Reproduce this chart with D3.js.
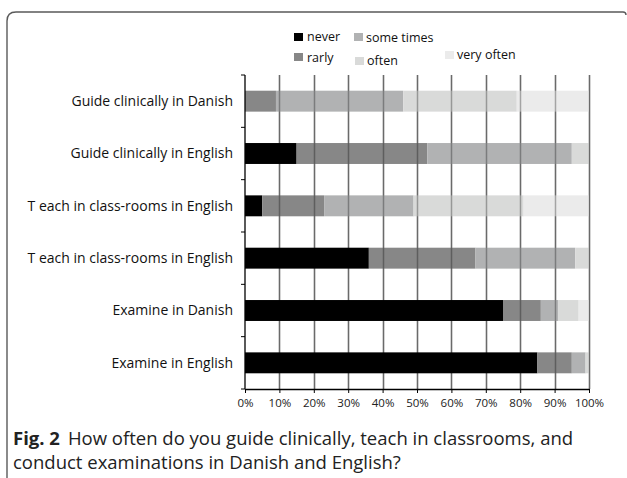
<!DOCTYPE html>
<html>
<head>
<meta charset="utf-8">
<script src="https://cdn.jsdelivr.net/npm/d3@7"></script>
<style>
  body { margin: 0; background: #fff; }
  svg text { font-family: "Open Sans", "Noto Sans", sans-serif; }
</style>
</head>
<body>
<div id="chart"></div>
<script>
// categories, top to bottom
var categories = [
  'Guide clinically in Danish',
  'Guide clinically in English',
  'T each in class-rooms in English',
  'T each in class-rooms in English ',
  'Examine in Danish',
  'Examine in English'
];
var keys = ['never', 'rarly', 'some times', 'often', 'very often'];
var never     = [0, 15, 5, 36, 75, 85];
var rarly     = [9, 38, 18, 31, 11, 10];
var someTimes = [37, 42, 26, 29, 5, 4];
var often     = [33, 5, 32, 4, 6, 1];
var veryOften = [21, 0, 19, 0, 3, 0];
var ticks = [0, 10, 20, 30, 40, 50, 60, 70, 80, 90, 100];
var colors = ['#000000', '#878787', '#b1b2b3', '#d9dad9', '#ebebeb'];

var rows = categories.map(function(c, i) {
  return {
    cat: c, 'never': never[i], 'rarly': rarly[i], 'some times': someTimes[i],
    'often': often[i], 'very often': veryOften[i]
  };
});

var width = 627, height = 478,
  x0 = 245, x1 = 589, y0 = 75, y1 = 389;

var svg = d3.select('#chart').append('svg')
  .attr('width', width).attr('height', height);

// frame
svg.append('path')
  .attr('d', 'M7,480 L7,21 Q7,12 16,12 L623,12 Q626,12 626,15')
  .attr('fill', 'none')
  .attr('stroke', '#5a5a5a')
  .attr('stroke-width', 1.4);

var x = d3.scaleLinear().domain([0, 100]).range([x0, x1]);
var y = d3.scaleBand().domain(categories).range([y0, y1]).paddingInner(0.6).paddingOuter(0.3);

// gridlines behind the bars
function grid(g, stroke, opacity) {
  g.selectAll('line')
    .data(ticks.slice(1))
    .enter().append('line')
    .attr('x1', function(d) { return Math.round(x(d)) + 0.5; })
    .attr('x2', function(d) { return Math.round(x(d)) + 0.5; })
    .attr('y1', y0)
    .attr('y2', y1)
    .attr('stroke', stroke)
    .attr('stroke-opacity', opacity)
    .attr('stroke-width', 1.5);
}
svg.append('g').call(grid, '#999', 1);

var series = d3.stack().keys(keys)(rows);

svg.append('g')
  .selectAll('g')
  .data(series)
  .enter().append('g')
  .attr('fill', function(d, i) { return colors[i]; })
  .selectAll('rect')
  .data(function(d) { return d; })
  .enter().append('rect')
  .attr('x', function(d) { return x(d[0]); })
  .attr('width', function(d) { return x(d[1]) - x(d[0]); })
  .attr('y', function(d) { return y(d.data.cat); })
  .attr('height', y.bandwidth());

// and again, see-through, over the bars
svg.append('g').call(grid, '#000', 0.3);

// x axis
var xAxis = svg.append('g')
  .attr('transform', 'translate(0,' + y1 + ')')
  .call(d3.axisBottom(x).tickValues(ticks).tickSize(4).tickSizeOuter(0)
    .tickFormat(function(d) { return d + '%'; }));
xAxis.select('.domain').attr('stroke', '#000').attr('stroke-width', 1.3);
xAxis.selectAll('.tick line').attr('stroke', '#000');
xAxis.selectAll('text')
  .attr('dy', '0.95em')
  .attr('font-size', 11.5)
  .attr('font-family', '"Open Sans", sans-serif')
  .attr('fill', '#222');

// y axis: ticks between categories
var yAxis = svg.append('g');
yAxis.append('line')
  .attr('x1', x0).attr('x2', x0)
  .attr('y1', y0).attr('y2', y1)
  .attr('stroke', '#000').attr('stroke-width', 1.3);
var step = (y1 - y0) / categories.length;
yAxis.selectAll('line.tk')
  .data(d3.range(categories.length + 1))
  .enter().append('line')
  .attr('class', 'tk')
  .attr('x1', x0 - 4).attr('x2', x0)
  .attr('y1', function(d) { return y0 + d * step; })
  .attr('y2', function(d) { return y0 + d * step; })
  .attr('stroke', '#000');

yAxis.selectAll('text')
  .data(categories)
  .enter().append('text')
  .attr('x', 233)
  .attr('y', function(d) { return y(d) + y.bandwidth() / 2; })
  .attr('dy', '0.35em')
  .attr('text-anchor', 'end')
  .attr('font-size', 14)
  .attr('font-family', 'Lato, "Open Sans", sans-serif')
  .attr('fill', '#111')
  .text(function(d) { return d.trim(); });

// legend
var legend = [
  { k: 'never', sx: 294, sy: 33, tx: 307, ty: 41 },
  { k: 'some times', sx: 354, sy: 33, tx: 366, ty: 42 },
  { k: 'rarly', sx: 294, sy: 53, tx: 307, ty: 62 },
  { k: 'often', sx: 355, sy: 57, tx: 367, ty: 65 },
  { k: 'very often', sx: 445, sy: 51, tx: 457, ty: 59 }
];
var lg = svg.append('g').selectAll('g').data(legend).enter().append('g');
lg.append('rect')
  .attr('x', function(d) { return d.sx; })
  .attr('y', function(d) { return d.sy; })
  .attr('width', 9).attr('height', 8)
  .attr('fill', function(d) { return colors[keys.indexOf(d.k)]; });
lg.append('text')
  .attr('x', function(d) { return d.tx; })
  .attr('y', function(d) { return d.ty; })
  .attr('font-size', 12.5)
  .attr('fill', '#111')
  .text(function(d) { return d.k; });

// caption
var cap = svg.append('text')
  .attr('x', 13).attr('y', 445)
  .attr('font-size', 18.5)
  .attr('fill', '#222');
cap.append('tspan').attr('font-weight', 'bold').text('Fig. 2');
cap.append('tspan').attr('dx', 8)
  .text('How often do you guide clinically, teach in classrooms, and');
svg.append('text')
  .attr('x', 13).attr('y', 469)
  .attr('font-size', 18.5)
  .attr('fill', '#222')
  .text('conduct examinations in Danish and English?');
</script>
</body>
</html>
